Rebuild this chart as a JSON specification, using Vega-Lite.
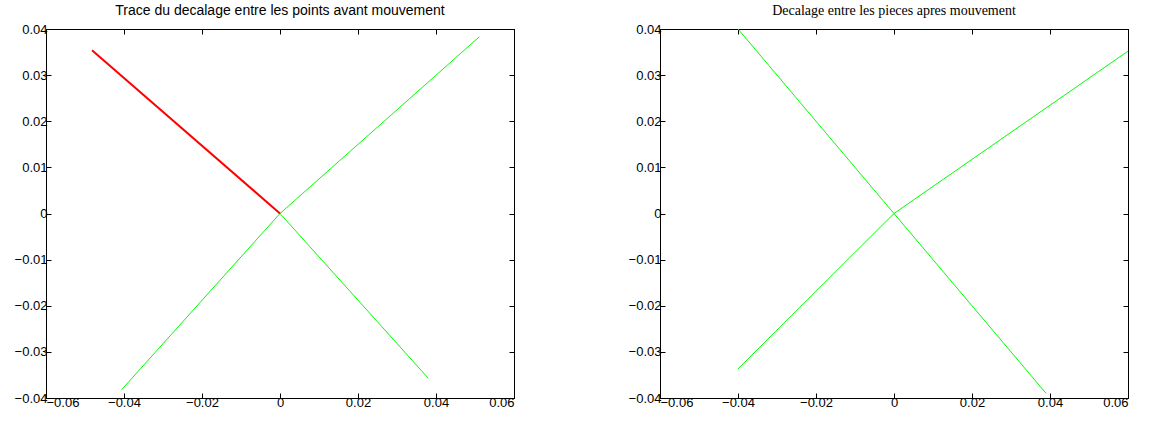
{
  "$schema": "https://vega.github.io/schema/vega-lite/v6.json",
  "background": "white",
  "padding": {"left": 13, "top": 3, "right": 5, "bottom": 5},
  "bounds": "flush",
  "spacing": 146,
  "datasets": {
    "pts": [
      {"panel": "L", "seg": "g1", "kind": "green", "ord": 1, "x": -0.0406, "y": -0.0382},
      {"panel": "L", "seg": "g1", "kind": "green", "ord": 2, "x": 0, "y": 0},
      {"panel": "L", "seg": "g1", "kind": "green", "ord": 3, "x": 0.0511, "y": 0.0383},
      {"panel": "L", "seg": "g2", "kind": "green", "ord": 1, "x": 0, "y": 0},
      {"panel": "L", "seg": "g2", "kind": "green", "ord": 2, "x": 0.038, "y": -0.0357},
      {"panel": "L", "seg": "r1", "kind": "red", "ord": 1, "x": -0.0482, "y": 0.0354},
      {"panel": "L", "seg": "r1", "kind": "red", "ord": 2, "x": 0, "y": 0},
      {"panel": "R", "seg": "g3", "kind": "green", "ord": 1, "x": -0.04, "y": 0.04},
      {"panel": "R", "seg": "g3", "kind": "green", "ord": 2, "x": 0, "y": 0},
      {"panel": "R", "seg": "g3", "kind": "green", "ord": 3, "x": 0.039, "y": -0.039},
      {"panel": "R", "seg": "g4", "kind": "green", "ord": 1, "x": -0.04, "y": -0.0337},
      {"panel": "R", "seg": "g4", "kind": "green", "ord": 2, "x": 0, "y": 0},
      {"panel": "R", "seg": "g4", "kind": "green", "ord": 3, "x": 0.06, "y": 0.0352}
    ]
  },
  "config": {
    "view": {"stroke": "black", "strokeWidth": 1},
    "axis": {
      "grid": false,
      "domainColor": "black",
      "domainWidth": 1,
      "tickColor": "black",
      "tickSize": -5,
      "labelColor": "black",
      "labelFont": "Liberation Sans",
      "labelFontSize": 13,
      "title": null
    },
    "axisX": {"labelPadding": 3},
    "axisY": {"labelPadding": 4}
  },
  "hconcat": [
    {
      "width": 468,
      "height": 369,
      "title": {"text": "Trace du decalage entre les points avant mouvement", "font": "Liberation Sans", "fontSize": 14, "fontWeight": "normal", "color": "black", "offset": 5},
      "data": {"name": "pts"},
      "transform": [{"filter": "datum.panel === 'L'"}],
      "layer": [
        {
          "transform": [{"filter": "datum.kind === 'green'"}],
          "mark": {"type": "line", "color": "#00ff00", "strokeWidth": 1, "clip": true},
          "encoding": {
            "x": {"field": "x", "type": "quantitative", "scale": {"domain": [-0.06, 0.06], "nice": false, "zero": false}, "axis": {"orient": "bottom", "values": [-0.06, -0.04, -0.02, 0, 0.02, 0.04, 0.06], "format": "~g"}},
            "y": {"field": "y", "type": "quantitative", "scale": {"domain": [-0.04, 0.04], "nice": false, "zero": false}, "axis": {"orient": "left", "values": [-0.04, -0.03, -0.02, -0.01, 0, 0.01, 0.02, 0.03, 0.04], "format": "~g"}},
            "detail": {"field": "seg"},
            "order": {"field": "ord"}
          }
        },
        {
          "transform": [{"filter": "datum.kind === 'red'"}],
          "mark": {"type": "line", "color": "#ff0000", "strokeWidth": 2, "clip": true},
          "encoding": {
            "x": {"field": "x", "type": "quantitative", "axis": null},
            "y": {"field": "y", "type": "quantitative", "axis": null},
            "order": {"field": "ord"}
          }
        },
        {
          "mark": {"type": "point", "opacity": 0},
          "encoding": {
            "x": {"field": "x", "type": "quantitative", "axis": {"orient": "top", "labels": false, "values": [-0.06, -0.04, -0.02, 0, 0.02, 0.04, 0.06]}},
            "y": {"field": "y", "type": "quantitative", "axis": {"orient": "right", "labels": false, "values": [-0.04, -0.03, -0.02, -0.01, 0, 0.01, 0.02, 0.03, 0.04]}}
          }
        }
      ],
      "resolve": {"axis": {"x": "independent", "y": "independent"}}
    },
    {
      "width": 468,
      "height": 369,
      "title": {"text": "Decalage entre les pieces apres mouvement", "font": "Liberation Serif", "fontSize": 14, "fontWeight": "normal", "color": "black", "offset": 5},
      "data": {"name": "pts"},
      "transform": [{"filter": "datum.panel === 'R'"}],
      "layer": [
        {
          "mark": {"type": "line", "color": "#00ff00", "strokeWidth": 1, "clip": true},
          "encoding": {
            "x": {"field": "x", "type": "quantitative", "scale": {"domain": [-0.06, 0.06], "nice": false, "zero": false}, "axis": {"orient": "bottom", "values": [-0.06, -0.04, -0.02, 0, 0.02, 0.04, 0.06], "format": "~g"}},
            "y": {"field": "y", "type": "quantitative", "scale": {"domain": [-0.04, 0.04], "nice": false, "zero": false}, "axis": {"orient": "left", "values": [-0.04, -0.03, -0.02, -0.01, 0, 0.01, 0.02, 0.03, 0.04], "format": "~g"}},
            "detail": {"field": "seg"},
            "order": {"field": "ord"}
          }
        },
        {
          "mark": {"type": "point", "opacity": 0},
          "encoding": {
            "x": {"field": "x", "type": "quantitative", "axis": {"orient": "top", "labels": false, "values": [-0.06, -0.04, -0.02, 0, 0.02, 0.04, 0.06]}},
            "y": {"field": "y", "type": "quantitative", "axis": {"orient": "right", "labels": false, "values": [-0.04, -0.03, -0.02, -0.01, 0, 0.01, 0.02, 0.03, 0.04]}}
          }
        }
      ],
      "resolve": {"axis": {"x": "independent", "y": "independent"}}
    }
  ]
}
